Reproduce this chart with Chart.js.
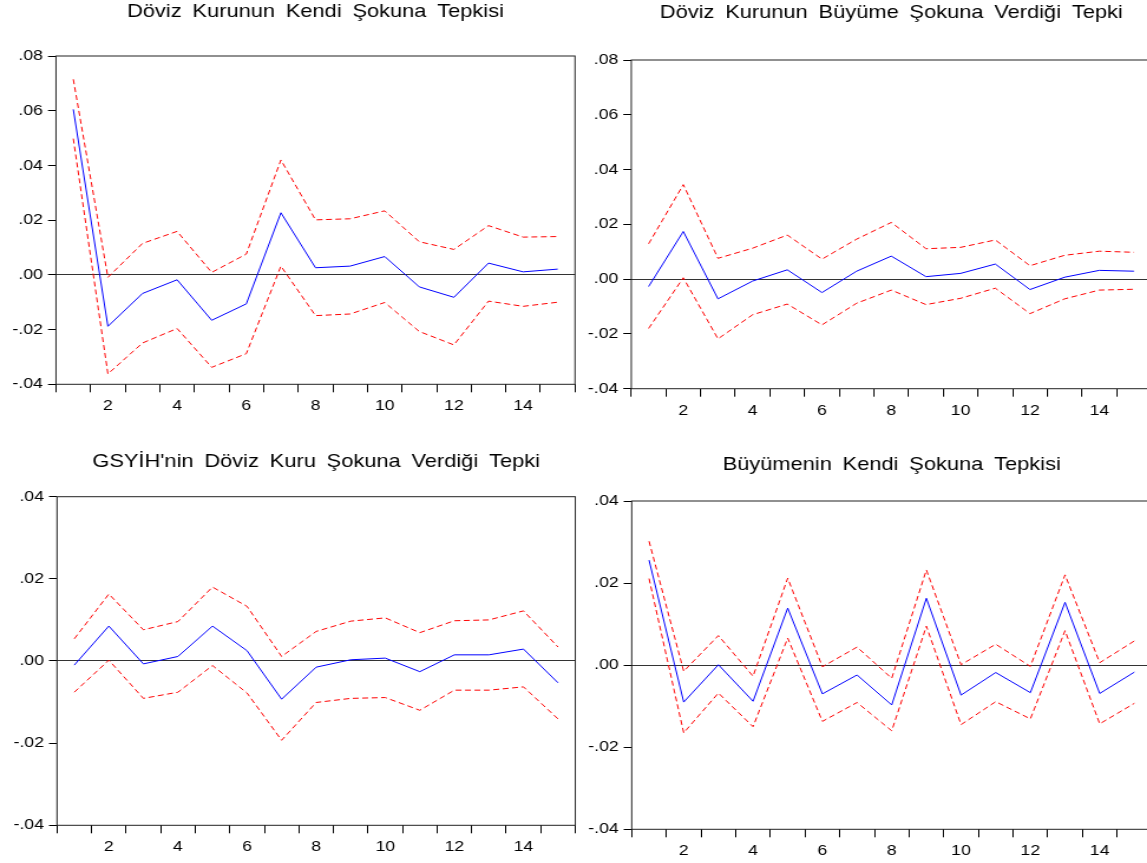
<!DOCTYPE html>
<html>
<head>
<meta charset="utf-8">
<script src="https://cdn.jsdelivr.net/npm/chart.js@4.4.0/dist/chart.umd.min.js"></script>
<style>
    html, body { margin: 0; padding: 0; background: #fff; overflow: hidden; width: 1147px; height: 863px; }
    .panel { position: absolute; transform-origin: 0 0; }
    .panel canvas { display: block; }
</style>
</head>
<body>
<div class="panel" id="p1"><canvas id="c1"></canvas></div>
<div class="panel" id="p2"><canvas id="c2"></canvas></div>
<div class="panel" id="p3"><canvas id="c3"></canvas></div>
<div class="panel" id="p4"><canvas id="c4"></canvas></div>
<script>
// periods 1..15
const periods = ["1", "2", "3", "4", "5", "6", "7", "8", "9", "10", "11", "12", "13", "14", "15"];

// Döviz Kurunun Kendi Şokuna Tepkisi
const kurKurIrf = [0.0605, -0.0188, -0.0068, -0.0018, -0.0166, -0.0106, 0.0227, 0.0026, 0.0032, 0.0067, -0.0044, -0.0082, 0.0043, 0.0011, 0.0021];
const kurKurUpper = [0.0715, -0.0009, 0.0115, 0.0159, 0.0009, 0.0076, 0.0420, 0.0201, 0.0205, 0.0234, 0.0121, 0.0093, 0.0180, 0.0138, 0.0140];
const kurKurLower = [0.0498, -0.0362, -0.0249, -0.0196, -0.0338, -0.0288, 0.0032, -0.0149, -0.0143, -0.0101, -0.0207, -0.0256, -0.0096, -0.0115, -0.0100];

// Döviz Kurunun Büyüme Şokuna Verdiği Tepki
const kurBuyIrf = [-0.0027, 0.0174, -0.0072, -0.0007, 0.0034, -0.0049, 0.0029, 0.0084, 0.0009, 0.0021, 0.0055, -0.0038, 0.0007, 0.0032, 0.0029];
const kurBuyUpper = [0.0129, 0.0345, 0.0076, 0.0113, 0.0161, 0.0073, 0.0146, 0.0207, 0.0111, 0.0116, 0.0143, 0.0049, 0.0087, 0.0102, 0.0098];
const kurBuyLower = [-0.0180, 0.0005, -0.0218, -0.0130, -0.0091, -0.0167, -0.0088, -0.0040, -0.0093, -0.0070, -0.0033, -0.0126, -0.0072, -0.0040, -0.0037];

// GSYİH'nin Döviz Kuru Şokuna Verdiği Tepki
const gsyihKurIrf = [-0.0010, 0.0085, -0.0007, 0.0011, 0.0085, 0.0025, -0.0093, -0.0015, 0.0003, 0.0007, -0.0026, 0.0015, 0.0015, 0.0029, -0.0053];
const gsyihKurUpper = [0.0054, 0.0163, 0.0076, 0.0096, 0.0180, 0.0133, 0.0011, 0.0072, 0.0097, 0.0105, 0.0069, 0.0098, 0.0100, 0.0122, 0.0034];
const gsyihKurLower = [-0.0076, 0.0002, -0.0091, -0.0076, -0.0011, -0.0078, -0.0193, -0.0101, -0.0091, -0.0089, -0.0120, -0.0071, -0.0071, -0.0063, -0.0141];

// Büyümenin Kendi Şokuna Tepkisi
const buyBuyIrf = [0.0256, -0.0090, 0.0001, -0.0088, 0.0139, -0.0070, -0.0024, -0.0097, 0.0163, -0.0073, -0.0018, -0.0067, 0.0153, -0.0069, -0.0017];
const buyBuyUpper = [0.0302, -0.0015, 0.0072, -0.0027, 0.0212, -0.0004, 0.0044, -0.0032, 0.0232, 0.0001, 0.0051, -0.0003, 0.0220, 0.0006, 0.0059];
const buyBuyLower = [0.0211, -0.0165, -0.0068, -0.0150, 0.0066, -0.0137, -0.0091, -0.0160, 0.0095, -0.0145, -0.0089, -0.0131, 0.0084, -0.0143, -0.0093];

// y axis ranges
const topRange = [-0.04, 0.08];
const bottomRange = [-0.04, 0.04];

const SX = 1.18;          // the original picture is stretched sideways
const FONT = "Arial, 'Liberation Sans', sans-serif";
const TITLE_SIZE = 18.5;
const TICK_SIZE = 15;
const WORD_GAP = 4;       // the titles have wide gaps between words

function fmt(v) {
    let s = Number(v).toFixed(2);
    return s.replace("0.", ".");
}

const frame = {
    id: "frame",
    beforeDraw(chart) {
        chart.ctx.wordSpacing = WORD_GAP + "px";
    },
    afterDraw(chart) {
        const a = chart.chartArea;
        const ctx = chart.ctx;
        ctx.save();
        ctx.strokeStyle = "#222";
        ctx.lineWidth = 1;
        ctx.strokeRect(a.left, a.top, a.right - a.left, a.bottom - a.top);
        ctx.restore();
        ctx.wordSpacing = "0px";
    }
};

function panel(divId, canvasId, title, irf, upper, lower, range, box) {
    const lh = TITLE_SIZE * 1.2;
    const chartRight = (box.right - box.x) / SX;
    const W = Math.ceil(chartRight + 3);
    const padR = W - chartRight;
    const yW = (box.left - box.x) / SX;
    const pt = box.titleY - box.y - lh / 2;
    const pb = box.top - box.y - pt - lh;
    const xH = box.h - (box.bottom - box.y);

    const div = document.getElementById(divId);
    div.style.left = box.x + "px";
    div.style.top = box.y + "px";
    div.style.width = W + "px";
    div.style.height = box.h + "px";
    div.style.transform = "scaleX(" + SX + ")";

    const data = {
        labels: periods,
        datasets: [
            { data: upper, borderColor: "#ff0000", borderWidth: 1, borderDash: [5, 3], pointRadius: 0, tension: 0 },
            { data: lower, borderColor: "#ff0000", borderWidth: 1, borderDash: [5, 3], pointRadius: 0, tension: 0 },
            { data: irf, borderColor: "#0000ff", borderWidth: 1, pointRadius: 0, tension: 0 }
        ]
    };

    const config = {
        type: "line",
        data: data,
        options: {
            responsive: true,
            maintainAspectRatio: false,
            animation: false,
            layout: { padding: { left: 0, right: padR, top: 0, bottom: 0 } },
            plugins: {
                legend: { display: false },
                tooltip: { enabled: false },
                title: {
                    display: true,
                    fullSize: false,
                    text: title,
                    color: "#000",
                    font: { family: FONT, size: TITLE_SIZE, weight: "normal", lineHeight: 1.2 },
                    padding: { top: pt, bottom: pb }
                }
            },
            scales: {
                x: {
                    type: "category",
                    offset: true,
                    border: { display: false },
                    grid: {
                        offset: true,
                        drawOnChartArea: false,
                        drawTicks: true,
                        tickLength: 8,
                        tickColor: "#000"
                    },
                    ticks: {
                        autoSkip: false,
                        maxRotation: 0,
                        color: "#000",
                        padding: 5,
                        font: { family: FONT, size: TICK_SIZE },
                        callback: (v, i) => (i % 2 === 1 ? periods[i] : "")
                    },
                    afterFit: (scale) => { scale.height = xH; }
                },
                y: {
                    min: range[0],
                    max: range[1],
                    border: { display: false },
                    grid: {
                        color: (c) => (Math.abs(c.tick.value) < 1e-9 ? "#333" : "rgba(0,0,0,0)"),
                        tickColor: "#000",
                        tickLength: 8 / SX,
                        lineWidth: 1
                    },
                    ticks: {
                        stepSize: 0.02,
                        color: "#000",
                        padding: 5 / SX,
                        font: { family: FONT, size: TICK_SIZE },
                        callback: (v) => fmt(v)
                    },
                    afterFit: (scale) => { scale.width = yW; }
                }
            }
        },
        plugins: [frame]
    };
    return new Chart(document.getElementById(canvasId), config);
}

panel("p1", "c1", "Döviz Kurunun Kendi Şokuna Tepkisi", kurKurIrf, kurKurUpper, kurKurLower, topRange,
    { x: 0, y: 0, h: 425, left: 56, right: 575, top: 56, bottom: 384.3, titleY: 12.4 });
panel("p2", "c2", "Döviz Kurunun Büyüme Şokuna Verdiği Tepki", kurBuyIrf, kurBuyUpper, kurBuyLower, topRange,
    { x: 576, y: 0, h: 429, left: 631.3, right: 1151.3, top: 60, bottom: 388.7, titleY: 13 });
panel("p3", "c3", "GSYİH'nin Döviz Kuru Şokuna Verdiği Tepki", gsyihKurIrf, gsyihKurUpper, gsyihKurLower, bottomRange,
    { x: 0, y: 435, h: 428, left: 57, right: 575.3, top: 496.7, bottom: 825.3, titleY: 462 });
panel("p4", "c4", "Büyümenin Kendi Şokuna Tepkisi", buyBuyIrf, buyBuyUpper, buyBuyLower, bottomRange,
    { x: 577, y: 435, h: 428, left: 631.7, right: 1151.7, top: 501, bottom: 829.3, titleY: 464.5 });
</script>
</body>
</html>
